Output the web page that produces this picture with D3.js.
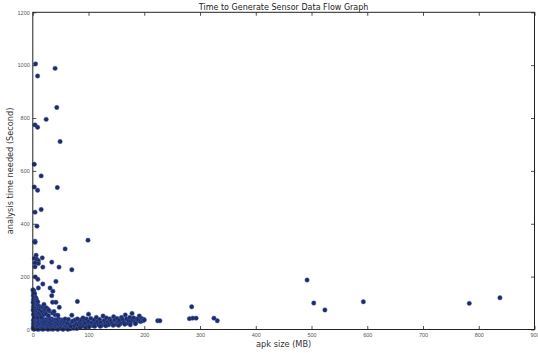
<!DOCTYPE html>
<html>
<head>
<meta charset="utf-8">
<script src="https://cdn.jsdelivr.net/npm/d3@7"></script>
<style>
  body { margin: 0; background: #fff; }
  svg { display: block; font-family: "DejaVu Sans", sans-serif; }
</style>
</head>
<body>
<div id="chart"></div>
<script>
// apk size (MB), analysis time (s)
const highOutliers = [
  [5, 1005], [8.6, 959], [40, 988], [43, 840], [24, 795], [4, 774], [8.6, 765], [49, 711],
  [2.7, 625], [15, 581], [2.7, 539], [8.6, 527], [44, 537], [4, 444], [15, 454], [7.5, 391],
  [4, 334], [4, 330], [99, 338], [58, 305], [6, 281], [3, 269], [7, 266], [17, 271],
  [10, 260], [10, 250], [4, 252], [34, 255], [4, 237], [18, 236], [47, 236], [70, 226],
  [4.5, 199], [9, 190], [18, 172], [41.5, 182], [10, 157], [31, 157], [36, 145], [34, 128],
  [35.5, 103], [41.5, 103], [80, 106], [47.5, 84], [21, 77], [24, 82], [28, 74], [100, 58],
  [70, 54], [0.3, 149], [3, 137]
];

const steepBand = [
  [0.5, 150], [2, 146], [1, 138], [3, 134], [0.8, 128], [4, 124], [2, 120], [6, 118],
  [1, 112], [3, 108], [7, 110], [0.5, 102], [5, 100], [9, 104], [2, 96], [4, 90],
  [8, 92], [1, 86], [6, 84], [11, 88], [3, 80], [9, 78], [14, 82], [0.5, 74],
  [5, 72], [12, 72], [2, 66], [7, 64], [16, 66], [4, 58], [10, 60], [1, 56],
  [13, 54], [6, 50], [19, 56], [3, 46], [9, 44], [15, 46],
  [18, 86], [26, 79], [22, 66], [30, 70], [24, 58], [35, 62], [40, 56], [28, 52],
  [45, 54], [38, 68], [20, 95]
];

const smallApps = [
  [2, 40], [6, 42], [11, 39], [17, 41], [23, 38], [29, 43], [34, 40], [40, 37], [46, 41], [52, 36],
  [1, 34], [4, 33], [8, 35], [13, 32], [19, 34], [25, 31], [31, 35], [37, 32], [43, 34], [49, 30], [55, 33],
  [3, 28], [7, 27], [10, 29], [15, 26], [21, 28], [27, 25], [33, 29], [39, 26], [45, 28], [51, 24], [57, 27],
  [1, 22], [5, 21], [9, 23], [14, 20], [18, 22], [24, 21], [30, 23], [36, 19], [42, 22], [48, 20], [54, 18], [60, 21],
  [2, 16], [6, 15], [11, 17], [16, 14], [20, 16], [26, 15], [32, 17], [38, 13], [44, 16], [50, 14], [56, 12], [62, 15],
  [1, 10], [4, 9], [8, 11], [13, 8], [17, 10], [22, 9], [28, 11], [34, 8], [40, 10], [46, 9], [52, 7], [58, 9], [64, 8], [70, 10],
  [0.5, 4], [3, 3], [7, 5], [12, 2], [16, 4], [21, 3], [26, 5], [31, 2], [37, 4], [43, 3], [49, 5], [55, 2], [61, 4], [67, 3], [73, 5], [79, 4],
  [2, 1], [9, 0.5], [18, 1], [27, 0.5], [36, 1], [45, 0.5], [54, 1], [63, 0.5]
];

const midApps = [
  [62, 24], [66, 18], [70, 28], [74, 14], [78, 22], [72, 32], [68, 12], [58, 40], [64, 38], [76, 36],
  [82, 16], [84, 28], [86, 36], [88, 20], [90, 12], [92, 32], [94, 24], [96, 40], [98, 16], [85, 8], [95, 8], [80, 40], [90, 44],
  [100, 30], [102, 18], [104, 42], [106, 26], [108, 14], [110, 36], [112, 22], [114, 46], [116, 30], [118, 18], [101, 10], [111, 12],
  [120, 38], [122, 26], [124, 16], [126, 51], [128, 34], [130, 22], [132, 44], [134, 28], [136, 18], [138, 40], [121, 12], [131, 14],
  [140, 32], [142, 24], [145, 48], [147, 36], [149, 20], [151, 42], [153, 28], [155, 34], [157, 22], [159, 46], [144, 16], [154, 16],
  [161, 38], [163, 28], [166, 55], [168, 40], [170, 24], [172, 34], [174, 46], [176, 30], [178, 61], [179, 38], [165, 20], [175, 18],
  [181, 44], [183, 30], [185, 26], [187, 40], [189, 36], [191, 51], [193, 30], [195, 42], [197, 33], [199, 38], [200, 36], [184, 22]
];

const largeApps = [
  [224, 33], [228, 33], [281, 41], [287, 43], [293, 43], [285, 86], [325, 43], [331, 33],
  [492, 187], [504, 100], [524, 74], [593, 105], [783, 99], [838, 120]
];

const xTicks = [0, 100, 200, 300, 400, 500, 600, 700, 800, 900];
const yTicks = [0, 200, 400, 600, 800, 1000, 1200];

const width = 538, height = 353;
const margin = { top: 12.3, right: 3.5, bottom: 23.5, left: 32.8 };
const w = width - margin.left - margin.right;
const h = height - margin.top - margin.bottom;

const svg = d3.select('#chart').append('svg')
  .attr('width', width)
  .attr('height', height);

const g = svg.append('g')
  .attr('transform', `translate(${margin.left},${margin.top})`);

const x = d3.scaleLinear().domain([0, 900]).range([0, w]);
const y = d3.scaleLinear().domain([0, 1200]).range([h, 0]);

// Points
const allPoints = [].concat(smallApps, midApps, steepBand, highOutliers, largeApps);
g.append('g')
  .selectAll('circle')
  .data(allPoints)
  .join('circle')
  .attr('cx', d => x(d[0]))
  .attr('cy', d => y(d[1]))
  .attr('r', 2.2)
  .attr('fill', '#1f2b58')
  .attr('stroke', '#3a58c4')
  .attr('stroke-width', 0.5);

// Axes (ticks inward on all four sides)
function styleAxis(sel, labels) {
  sel.select('.domain').remove();
  sel.selectAll('.tick line').attr('stroke', '#222').attr('stroke-width', 0.8);
  if (!labels) sel.selectAll('.tick text').remove();
  else sel.selectAll('.tick text').attr('fill', '#555').style('font-size', '5.5px');
}

const fmt = d3.format('d');

g.append('g')
  .attr('transform', `translate(0,${h})`)
  .call(d3.axisBottom(x).tickValues(xTicks).tickFormat(fmt).tickSize(-3.5).tickPadding(4))
  .call(s => styleAxis(s, true));

g.append('g')
  .call(d3.axisTop(x).tickValues(xTicks).tickSize(-3.5))
  .call(s => styleAxis(s, false));

g.append('g')
  .call(d3.axisLeft(y).tickValues(yTicks).tickFormat(fmt).tickSize(-3.5).tickPadding(3))
  .call(s => styleAxis(s, true));

g.append('g')
  .attr('transform', `translate(${w},0)`)
  .call(d3.axisRight(y).tickValues(yTicks).tickSize(-3.5))
  .call(s => styleAxis(s, false));

// Frame
g.append('rect')
  .attr('width', w)
  .attr('height', h)
  .attr('fill', 'none')
  .attr('stroke', '#222')
  .attr('stroke-width', 1);

// Title
svg.append('text')
  .attr('x', margin.left + w / 2)
  .attr('y', 9.5)
  .attr('text-anchor', 'middle')
  .attr('fill', '#222')
  .style('font-size', '8px')
  .text('Time to Generate Sensor Data Flow Graph');

// Axis labels
svg.append('text')
  .attr('x', margin.left + w / 2)
  .attr('y', 346.5)
  .attr('text-anchor', 'middle')
  .attr('fill', '#333')
  .style('font-size', '8.2px')
  .text('apk size (MB)');

svg.append('text')
  .attr('transform', `translate(12.5,${margin.top + h / 2}) rotate(-90)`)
  .attr('text-anchor', 'middle')
  .attr('fill', '#333')
  .style('font-size', '8.2px')
  .text('analysis time needed (Second)');
</script>
</body>
</html>
